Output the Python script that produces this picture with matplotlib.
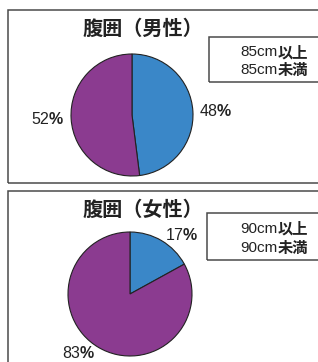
import matplotlib
matplotlib.use("Agg")
import matplotlib.pyplot as plt
from matplotlib.patches import Rectangle

plt.rcParams['font.family'] = ['Liberation Sans', 'Noto Sans CJK JP']
plt.rcParams['mathtext.fontset'] = 'custom'
plt.rcParams['mathtext.rm'] = 'Liberation Sans'
plt.rcParams['mathtext.bf'] = 'Liberation Sans:bold'

W, H = 318, 362

titles = ["腹囲（男性）", "腹囲（女性）"]
shares = [[48, 52], [17, 83]]
legend_num = ["85cm", "90cm"]
legend_cjk = ["以上", "未満"]
colors = ["#3a87c8", "#8b3b90"]

# pixel layout of the two panels (top-left origin)
frame_top = [10, 191]
frame_bot = [183, 370]
pie_ctr = [(132, 115), (130, 294)]
pie_r = [61, 62]
title_ctr = [(143, 28), (143, 209)]
leg_box = [(209, 37, 112, 45), (207, 213, 114, 47)]

fig = plt.figure(figsize=(W / 100, H / 100), dpi=100)
fig.patch.set_facecolor('white')


def fx(x):
    return x / W


def fy(y):
    return 1 - y / H


for i in range(2):
    # panel frame
    fig.patches.append(Rectangle((fx(8), fy(frame_bot[i])), fx(330 - 8),
                                 (frame_bot[i] - frame_top[i]) / H,
                                 transform=fig.transFigure, fill=False,
                                 edgecolor='#4a4a4a', lw=1.1))

    cx, cy = pie_ctr[i]
    r = pie_r[i]
    k = 1.6
    side = 2 * r * k
    ax = fig.add_axes([fx(cx - side / 2), fy(cy + side / 2), side / W, side / H])
    labels = [f"{v}$\\mathbf{{\\%}}$" for v in shares[i]]
    ax.pie(shares[i], colors=colors, startangle=90, counterclock=False,
           labels=labels, labeldistance=1.1,
           wedgeprops=dict(edgecolor='#222222', linewidth=0.8),
           textprops=dict(fontsize=11.5, color='#222222'))
    ax.set_xlim(-k, k)
    ax.set_ylim(-k, k)
    ax.set_aspect('equal')
    ax.axis('off')

    tx, ty = title_ctr[i]
    fig.text(fx(tx), fy(ty), titles[i], ha='center', va='center',
             fontsize=14.5, fontweight='bold', family='Noto Sans CJK JP',
             color='#222222')

    # legend box (text only)
    bx, by, bw, bh = leg_box[i]
    fig.patches.append(Rectangle((fx(bx), fy(by + bh)), bw / W, bh / H,
                                 transform=fig.transFigure, fill=False,
                                 edgecolor='#4a4a4a', lw=1.1))
    for j in range(2):
        ly = by + bh * (0.34 + 0.4 * j)
        t = fig.text(fx(308), fy(ly), legend_cjk[j], ha='right', va='center',
                     fontsize=11, fontweight='bold', family='Noto Sans CJK JP',
                     color='#222222')
        ax.annotate(legend_num[i], xy=(0, 0.5), xycoords=t, ha='right',
                    va='center', fontsize=11, color='#222222',
                    annotation_clip=False)

fig.savefig("out.png", dpi=100)
